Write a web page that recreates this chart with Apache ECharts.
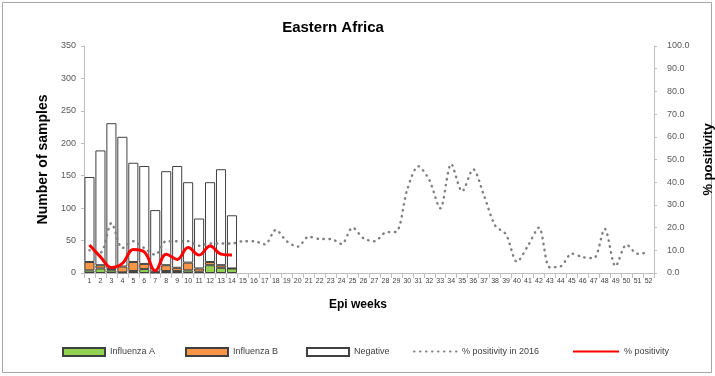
<!DOCTYPE html>
<html><head><meta charset="utf-8">
<script src="https://cdn.jsdelivr.net/npm/echarts@6/dist/echarts.min.js"></script>
<style>html,body{margin:0;padding:0;background:#fff}#c{width:715px;height:376px}</style>
</head><body><div id="c"></div>
<script>
var weeks = [];
for (var i = 1; i <= 52; i++) weeks.push(String(i));
var totals = [148, 189, 231, 210, 170, 165, 97, 157, 165, 140, 84, 140, 160, 89];
var fluA = [4, 7, 4, 1, 3, 6, 1, 3, 3, 4, 2, 12, 8, 7];
var fluB = [13, 5, 2, 9, 14, 8, 1, 9, 5, 12, 5, 5, 4, 0];
var negative = totals.map(function (t, i) { return t - fluA[i] - fluB[i]; });
var positivity = [12.3, 7.1, 2.4, 4.2, 10.4, 9.3, 1.0, 8.3, 6.0, 11.2, 7.9, 11.9, 8.3, 7.9];
var positivity2016 = [10, 9, 22, 11, 14, 11, 8, 14, 14, 14, 12, 13, 13, 13,
  14, 14, 12.6, 19, 14, 11.6, 16, 15, 15, 12.8, 20, 15.3, 14, 17.8, 18.2, 37,
  47, 41, 28.5, 48, 36, 45.7, 34, 21, 17, 5, 12, 20, 2.5, 3, 8.5, 7, 6.5,
  19.5, 3, 12.5, 8.5, 9];
var leftTicks = [0, 350, 50];
var rightTicks = [0, 100, 10];

var chart = echarts.init(document.getElementById('c'));
var font = 'Liberation Sans, Arial, sans-serif';
function lg(name, left, icon, w) {
  var item = { name: name };
  if (icon) item.icon = icon;
  else item.itemStyle = { opacity: 0, color: 'rgba(0,0,0,0)', borderColor: 'rgba(0,0,0,0)' };
  return { data: [item], left: left, top: 342, itemWidth: w || 42, itemHeight: 8,
    textStyle: { fontSize: 9, color: '#404040', fontFamily: font }, selectedMode: false };
}
chart.setOption({
  animation: false,
  textStyle: { fontFamily: font },
  title: { text: 'Eastern Africa', left: 328, top: 15, textAlign: 'center',
    textStyle: { fontSize: 15, fontWeight: 'bold', color: '#000', fontFamily: font } },
  graphic: [{ type: 'rect', shape: { x: 2.5, y: 2.5, width: 709, height: 370 },
    style: { fill: 'none', stroke: '#a6a6a6', lineWidth: 1 }, z: -1 }],
  legend: [
    lg('Influenza A', 57, 'rect'),
    lg('Influenza B', 180, 'rect'),
    lg('Negative', 301, 'rect'),
    lg('% positivity in 2016', 408, null, 43),
    lg('% positivity', 567, null, 46)
  ],
  grid: { left: 84, right: 61, top: 46, bottom: 103, outerBoundsMode: 'none', containLabel: false },
  xAxis: {
    type: 'category', data: weeks, name: 'Epi weeks', nameLocation: 'middle', nameGap: 26,
    nameTextStyle: { fontSize: 12, fontWeight: 'bold', color: '#000', padding: [0, 22, 0, 0] },
    axisLine: { lineStyle: { color: '#bfbfbf' } },
    axisTick: { show: true, alignWithLabel: false, lineStyle: { color: '#bfbfbf' } },
    axisLabel: { interval: 0, fontSize: 7, color: '#404040', margin: 5 }
  },
  yAxis: [{
    type: 'value', min: leftTicks[0], max: leftTicks[1], interval: leftTicks[2],
    name: 'Number of samples', nameLocation: 'middle', nameGap: 28, nameRotate: 90,
    nameTextStyle: { fontSize: 14, fontWeight: 'bold', color: '#000' },
    axisLine: { show: true, lineStyle: { color: '#bfbfbf' } },
    axisTick: { show: true, length: 3, lineStyle: { color: '#bfbfbf' } },
    splitLine: { show: false },
    axisLabel: { fontSize: 9, color: '#595959', margin: 8 }
  }, {
    type: 'value', min: rightTicks[0], max: rightTicks[1], interval: rightTicks[2], position: 'right',
    name: '% positivity', nameLocation: 'middle', nameGap: 48, nameRotate: 90,
    nameTextStyle: { fontSize: 13, fontWeight: 'bold', color: '#000' },
    axisLine: { show: true, lineStyle: { color: '#bfbfbf' } },
    axisTick: { show: true, length: 3, lineStyle: { color: '#bfbfbf' } },
    splitLine: { show: false },
    axisLabel: { fontSize: 9, color: '#595959', margin: 13, formatter: function (v) { return v.toFixed(1); } }
  }],
  series: [
    { name: 'Influenza A', type: 'bar', stack: 's', data: fluA, barCategoryGap: '8%',
      itemStyle: { color: '#92d050', borderColor: '#404040', borderWidth: 1 } },
    { name: 'Influenza B', type: 'bar', stack: 's', data: fluB, barCategoryGap: '8%',
      itemStyle: { color: '#f79646', borderColor: '#404040', borderWidth: 1 } },
    { name: 'Negative', type: 'bar', stack: 's', data: negative, barCategoryGap: '8%',
      itemStyle: { color: '#ffffff', borderColor: '#404040', borderWidth: 1 } },
    { name: '% positivity in 2016', type: 'line', yAxisIndex: 1, data: positivity2016, smooth: 0.3,
      symbol: 'none', itemStyle: { color: '#808080' },
      lineStyle: { color: '#7f7f7f', width: 2.4, type: [0.5, 5.5], cap: 'round' }, z: 3 },
    { name: '% positivity', type: 'line', yAxisIndex: 1, data: positivity, smooth: 0.4,
      symbol: 'none', itemStyle: { color: '#ff0000' },
      lineStyle: { color: '#ff0000', width: 3 }, z: 4 }
  ]
});
</script></body></html>
